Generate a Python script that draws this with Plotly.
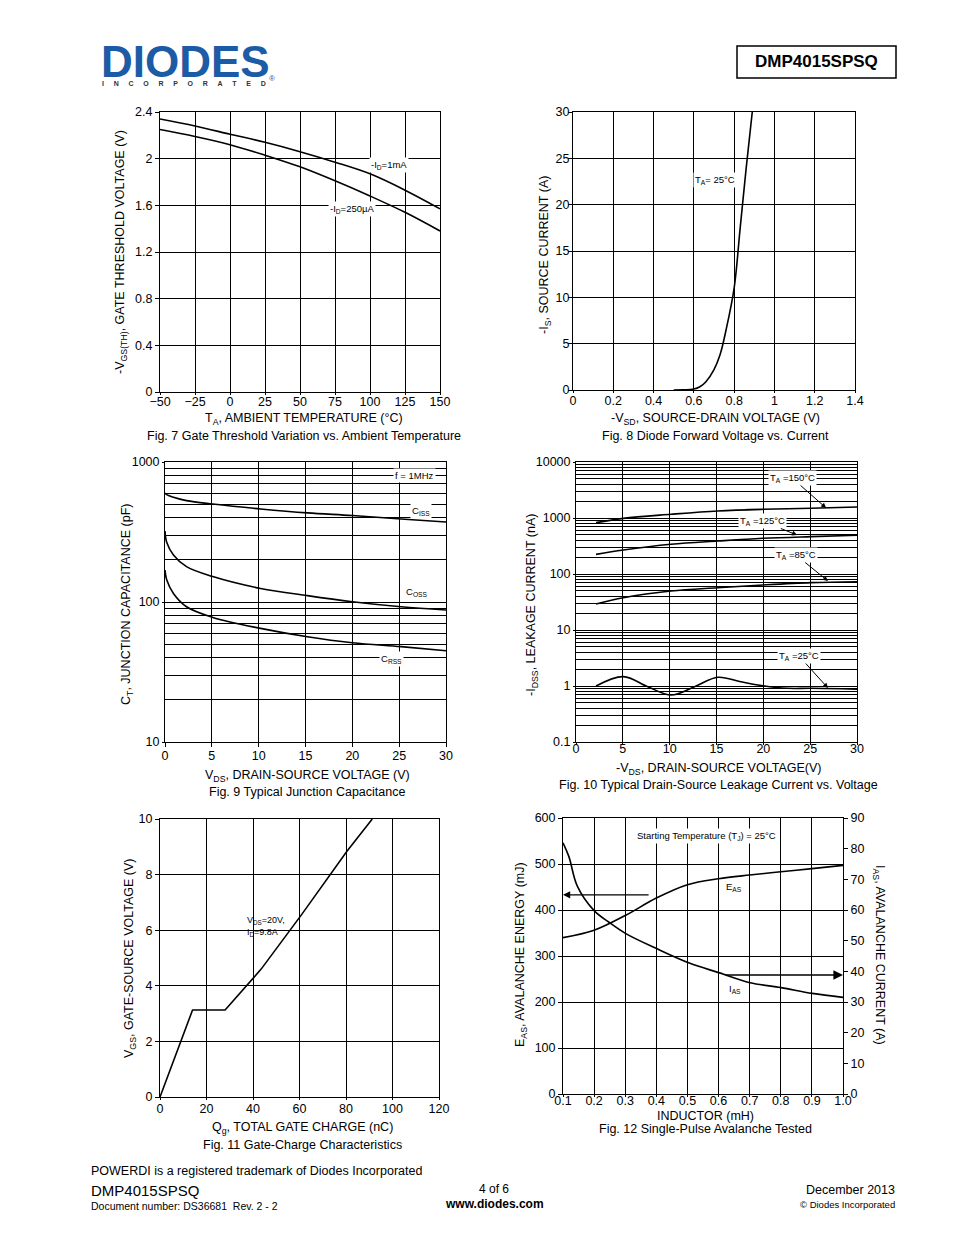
import math
import plotly.graph_objects as go

W, H = 954, 1235
OFF = 8                      # page body margin of the browser
FW, FH = W - OFF, H - OFF    # figure size
FONT = "Liberation Sans, Arial, sans-serif"

# ---------------- data ----------------
# Fig 7: gate threshold vs temperature
f7_temp = [-50, -25, 0, 25, 50, 75, 100, 125, 150]
f7_vth_1mA = [2.34, 2.28, 2.21, 2.14, 2.06, 1.97, 1.87, 1.73, 1.57]
f7_vth_250uA = [2.25, 2.19, 2.12, 2.03, 1.93, 1.81, 1.68, 1.54, 1.38]

# Fig 8: diode forward voltage vs current
f8_vsd = [0.5, 0.55, 0.6, 0.63, 0.66, 0.7, 0.73, 0.76, 0.8, 0.83, 0.86, 0.89]
f8_is = [0.0, 0.02, 0.1, 0.35, 0.9, 2.2, 3.8, 6.5, 11.0, 17.5, 24.0, 30.0]

# Fig 9: junction capacitance
f9_vds = [0, 0.18, 0.9, 2.3, 5.1, 10.2, 15.2, 20, 25.2, 30]
f9_ciss = [600, 585, 560, 530, 501, 462, 433, 415, 392, 373]
f9_coss = [321, 267, 217, 179, 152, 125, 111, 100.5, 92.5, 87.7]
f9_crss = [169, 144, 115, 92.5, 77.6, 64.8, 56.5, 51.2, 48, 44.9]

# Fig 10: leakage current vs voltage
f10_vds = [2.14, 5.06, 10.15, 15.14, 19.95, 25.1, 30]
f10_i150 = [826, 986, 1164, 1334, 1429, 1489, 1571]
f10_i125 = [224, 268, 339, 388, 434, 465, 491]
f10_i85 = [29.1, 37.7, 49.7, 56.9, 63.6, 70.0, 72.9]
f10_vds25 = [2.14, 5.06, 7.66, 10.15, 12.65, 15.14, 17.6, 19.95, 22.6, 25.1, 30]
f10_i25 = [1.0, 1.47, 0.97, 0.69, 0.97, 1.43, 1.19, 1.01, 0.91, 0.91, 0.88]

# Fig 11: gate charge
f11_qg = [0, 14, 28, 43.5, 60.9, 80.4, 91.3]
f11_vgs = [0, 3.13, 3.13, 4.6, 6.56, 8.84, 10.0]

# Fig 12: single-pulse avalanche
f12_l = [0.1, 0.2, 0.3, 0.4, 0.5, 0.6, 0.7, 0.8, 0.9, 1.0]
f12_eas = [340, 356, 388, 426, 455, 468, 476, 483, 490, 497]
f12_l_ias = [0.1, 0.119, 0.146, 0.2, 0.248, 0.302, 0.399, 0.506, 0.603, 0.701, 0.801, 0.901, 1.0]
f12_ias = [81.9, 77.4, 67.8, 59.8, 56.0, 52.3, 47.5, 42.7, 39.5, 36.3, 34.7, 32.8, 31.5]

# tick labels
f7_xt = [-50, -25, 0, 25, 50, 75, 100, 125, 150]
f7_yt = [0, 0.4, 0.8, 1.2, 1.6, 2.0, 2.4]
f7_ytt = ["0", "0.4", "0.8", "1.2", "1.6", "2", "2.4"]
f8_xt = [0, 0.2, 0.4, 0.6, 0.8, 1.0, 1.2, 1.4]
f8_xtt = ["0", "0.2", "0.4", "0.6", "0.8", "1", "1.2", "1.4"]
f8_yt = [0, 5, 10, 15, 20, 25, 30]
f9_yt = [10, 100, 1000]
f10_yt = [0.1, 1, 10, 100, 1000, 10000]
f10_ytt = ["0.1", "1", "10", "100", "1000", "10000"]
vds_xt = [0, 5, 10, 15, 20, 25, 30]
f11_xt = [0, 20, 40, 60, 80, 100, 120]
f11_yt = [0, 2, 4, 6, 8, 10]
f12_xt = [0.1, 0.2, 0.3, 0.4, 0.5, 0.6, 0.7, 0.8, 0.9, 1.0]
f12_xtt = ["0.1", "0.2", "0.3", "0.4", "0.5", "0.6", "0.7", "0.8", "0.9", "1.0"]
f12_ylt = [0, 100, 200, 300, 400, 500, 600]
f12_yrt = [0, 10, 20, 30, 40, 50, 60, 70, 80, 90]


def minor_log(lo, hi):
    vals = []
    for e in range(lo, hi):
        for m in range(2, 10):
            vals.append(m * 10 ** e)
    return vals


# ---------------- helpers (page pixels -> paper) ----------------
def px(x):
    return (x - OFF) / FW


def py(y):
    return 1 - (y - OFF) / FH


def xd(a, b):
    return [px(a), px(b)]


def yd(top, bottom):
    return [py(bottom), py(top)]


def axis(**kw):
    d = dict(showline=True, linecolor="black", linewidth=1, mirror=True,
             showgrid=True, gridcolor="black", gridwidth=1, zeroline=False,
             ticks="outside", ticklen=4, tickcolor="black", tickwidth=1,
             tickfont=dict(family=FONT, size=12.5, color="black"),
             fixedrange=True, automargin=False)
    d.update(kw)
    return d


LINE = dict(color="black", width=1.6)
fig = go.Figure()

fig.add_trace(go.Scatter(x=f7_temp, y=f7_vth_1mA, mode="lines", line=dict(LINE, shape="spline"), xaxis="x", yaxis="y"))
fig.add_trace(go.Scatter(x=f7_temp, y=f7_vth_250uA, mode="lines", line=dict(LINE, shape="spline"), xaxis="x", yaxis="y"))
fig.add_trace(go.Scatter(x=f8_vsd, y=f8_is, mode="lines", line=dict(LINE, shape="spline"), xaxis="x2", yaxis="y2"))
for ys in (f9_ciss, f9_coss, f9_crss):
    fig.add_trace(go.Scatter(x=f9_vds, y=ys, mode="lines", line=dict(LINE, shape="spline"), xaxis="x3", yaxis="y3"))
for ys in (f10_i150, f10_i125, f10_i85):
    fig.add_trace(go.Scatter(x=f10_vds, y=ys, mode="lines", line=dict(LINE, shape="spline"), xaxis="x4", yaxis="y4"))
fig.add_trace(go.Scatter(x=f10_vds25, y=f10_i25, mode="lines", line=dict(LINE, shape="spline", smoothing=1.0), xaxis="x4", yaxis="y4"))
fig.add_trace(go.Scatter(x=f11_qg, y=f11_vgs, mode="lines", line=LINE, xaxis="x5", yaxis="y5"))
fig.add_trace(go.Scatter(x=f12_l, y=f12_eas, mode="lines", line=dict(LINE, shape="spline"), xaxis="x6", yaxis="y6"))
fig.add_trace(go.Scatter(x=f12_l_ias, y=f12_ias, mode="lines", line=dict(LINE, shape="spline"), xaxis="x6", yaxis="y7"))

layout = dict(
    template="none",
    width=FW, height=FH, margin=dict(l=0, r=0, t=0, b=0, pad=0), autosize=False,
    paper_bgcolor="white", plot_bgcolor="white", showlegend=False,
    font=dict(family=FONT, color="black"),
    xaxis=axis(domain=xd(160, 440), range=[-50, 150], tickvals=f7_xt, anchor="y", ticklen=2, ticklabelstandoff=-4),
    yaxis=axis(domain=yd(112, 392), range=[0, 2.4], tickvals=f7_yt, ticktext=f7_ytt, anchor="x"),
    xaxis2=axis(domain=xd(573, 855), range=[0, 1.4], tickvals=f8_xt, ticktext=f8_xtt, anchor="y2", ticklen=2, ticklabelstandoff=-3),
    yaxis2=axis(domain=yd(112, 390), range=[0, 30], tickvals=f8_yt, anchor="x2", ticklabelstandoff=-4),
    xaxis3=axis(domain=xd(165, 446), range=[0, 30], tickvals=vds_xt, anchor="y3", ticklen=4, ticklabelstandoff=-2),
    yaxis3=axis(domain=yd(462, 742), type="log", range=[1, 3], tickvals=f9_yt, anchor="x3",
                ticklen=2,
                minor=dict(tickmode="array", tickvals=minor_log(1, 3), showgrid=True,
                           gridcolor="black", gridwidth=1, ticks="")),
    xaxis4=axis(domain=xd(576, 857), range=[0, 30], tickvals=vds_xt, anchor="y4", ticklen=2, ticklabelstandoff=-7),
    yaxis4=axis(domain=yd(462, 742), type="log", range=[-1, 4], tickvals=f10_yt, ticktext=f10_ytt,
                anchor="x4", ticklen=2,
                minor=dict(tickmode="array", tickvals=minor_log(-1, 4), showgrid=True,
                           gridcolor="black", gridwidth=1, ticks="")),
    xaxis5=axis(domain=xd(160, 439), range=[0, 120], tickvals=f11_xt, anchor="y5", ticklen=2, ticklabelstandoff=-2),
    yaxis5=axis(domain=yd(819, 1097), range=[0, 10], tickvals=f11_yt, anchor="x5"),
    xaxis6=axis(domain=xd(563, 843), range=[0.1, 1.0], tickvals=f12_xt, ticktext=f12_xtt, anchor="y6",
                ticklen=2, ticklabelstandoff=-7),
    yaxis6=axis(domain=yd(818, 1094), range=[0, 600], tickvals=f12_ylt, anchor="x6", mirror=False),
    yaxis7=axis(domain=yd(818, 1094), range=[0, 90], tickvals=f12_yrt, anchor="x6",
                overlaying="y6", side="right", showgrid=False, mirror=False),
)
fig.update_layout(**layout)

ann = []
shapes = []


def txt(x, y, text, size=12.5, xanchor="center", angle=0, bold=False, color="black", bg=None, **kw):
    d = dict(xref="paper", yref="paper", x=px(x), y=py(y), text=("<b>%s</b>" % text) if bold else text,
             showarrow=False, xanchor=xanchor, yanchor="middle", textangle=angle,
             font=dict(family=FONT, size=size, color=color))
    if bg:
        d.update(bgcolor=bg, borderpad=1)
    d.update(kw)
    ann.append(d)


# header
txt(99, 62, "DIODES", size=44, xanchor="left", bold=True, color="#1c5ba6")
NB = "\u00a0" * 5
txt(100, 84, NB.join("INCORPORATED"), size=7, xanchor="left", bold=True, color="#333333")
txt(272, 78, "®", size=8, color="#1c5ba6")
txt(816, 62, "DMP4015SPSQ", size=17, bold=True)
shapes.append(dict(type="rect", xref="paper", yref="paper", x0=px(737), x1=px(896), y0=py(78), y1=py(46),
                   line=dict(color="black", width=1.5)))

# Fig 7
txt(121, 252, "-V<sub>GS(TH)</sub>, GATE THRESHOLD VOLTAGE (V)", size=12.5, angle=-90)
txt(304, 419, "T<sub>A</sub>, AMBIENT TEMPERATURE (°C)", size=12.5)
txt(304, 436, "Fig. 7 Gate Threshold Variation vs. Ambient Temperature", size=12.5)
txt(389, 165, "-I<sub>D</sub>=1mA", size=9.5, bg="white")
txt(352, 209, "-I<sub>D</sub>=250µA", size=9.5, bg="white")

# Fig 8
txt(545, 255, "-I<sub>S</sub>, SOURCE CURRENT (A)", size=12.5, angle=-90)
txt(715, 419, "-V<sub>SD</sub>, SOURCE-DRAIN VOLTAGE (V)", size=12.5)
txt(715, 436, "Fig. 8 Diode Forward Voltage vs. Current", size=12.5)
txt(715, 180, "T<sub>A</sub>= 25°C", size=9.5, bg="white")

# Fig 9
txt(127, 605, "C<sub>T</sub>, JUNCTION CAPACITANCE (pF)", size=12.5, angle=-90)
txt(307, 776, "V<sub>DS</sub>, DRAIN-SOURCE VOLTAGE (V)", size=12.5)
txt(307, 792, "Fig. 9 Typical Junction Capacitance", size=12.5)
txt(414, 475, "f = 1MHz", size=9.5, bg="white")
txt(421, 511, "C<sub>ISS</sub>", size=9.5, bg="white")
txt(416, 592, "C<sub>OSS</sub>", size=9.5, bg="white")
txt(391, 659, "C<sub>RSS</sub>", size=9.5, bg="white")

# Fig 10
txt(532, 605, "-I<sub>DSS</sub>, LEAKAGE CURRENT (nA)", size=12.5, angle=-90)
txt(718, 769, "-V<sub>DS</sub>, DRAIN-SOURCE VOLTAGE(V)", size=12.5)
txt(718, 785, "Fig. 10 Typical Drain-Source Leakage Current vs. Voltage", size=12.5)
f10_labels = [("T<sub>A</sub> =150°C", 26.7, 3.179, -34, -30),
              ("T<sub>A</sub> =125°C", 23.6, 2.696, -35, -14),
              ("T<sub>A</sub> =85°C", 26.9, 1.875, -32, -26),
              ("T<sub>A</sub> =25°C", 26.9, -0.036, -29, -32)]
for t, hx, hy, axp, ayp in f10_labels:
    ann.append(dict(xref="x4", yref="y4", x=hx, y=hy, text=t, showarrow=True, ax=axp, ay=ayp,
                    arrowhead=2, arrowsize=1, arrowwidth=1, arrowcolor="black",
                    bgcolor="white", borderpad=1, font=dict(family=FONT, size=9.5, color="black")))

# Fig 11
txt(130, 958, "V<sub>GS</sub>, GATE-SOURCE VOLTAGE (V)", size=12.5, angle=-90)
txt(302, 1128, "Q<sub>g</sub>, TOTAL GATE CHARGE (nC)", size=12.5)
txt(302, 1145, "Fig. 11 Gate-Charge Characteristics", size=12.5)
shapes.append(dict(type="rect", xref="paper", yref="paper", layer="between", x0=px(243), x1=px(283),
                   y0=py(939), y1=py(913), fillcolor="white", line=dict(width=0)))
txt(245, 926, "V<sub>DS</sub>=20V,<br>I<sub>D</sub>=9.8A", size=9, xanchor="left", align="left")

# Fig 12
txt(521, 955, "E<sub>AS</sub>, AVALANCHE ENERGY (mJ)", size=12.5, angle=-90)
txt(879, 955, "I<sub>AS</sub>, AVALANCHE CURRENT (A)", size=12.5, angle=90)
txt(705, 1116, "INDUCTOR (mH)", size=12.5)
txt(705, 1129, "Fig. 12 Single-Pulse Avalanche Tested", size=12.5)
txt(706, 836, "Starting Temperature (T<sub>J</sub>) = 25°C", size=9.5, bg="white")
txt(734, 887, "E<sub>AS</sub>", size=9.5)
txt(735, 989, "I<sub>AS</sub>", size=9.5)
ann.append(dict(xref="x6", yref="y6", x=0.1, y=433, axref="x6", ayref="y6", ax=0.38, ay=433,
                text="", showarrow=True, arrowhead=2, arrowsize=1.2, arrowwidth=1.2, arrowcolor="black"))
ann.append(dict(xref="x6", yref="y7", x=1.0, y=38.8, axref="x6", ayref="y7", ax=0.62, ay=38.8,
                text="", showarrow=True, arrowhead=2, arrowsize=1.2, arrowwidth=1.6, arrowcolor="black"))

# footer
txt(89, 1171, "POWERDI is a registered trademark of Diodes Incorporated", size=12.5, xanchor="left")
txt(89, 1190, "DMP4015SPSQ", size=15, xanchor="left")
txt(89, 1206, "Document number: DS36681  Rev. 2 - 2", size=10.5, xanchor="left")
txt(494, 1189, "4 of 6", size=12)
txt(494, 1204, "www.diodes.com", size=12, bold=True)
txt(897, 1190, "December 2013", size=12.5, xanchor="right")
txt(897, 1204, "© Diodes Incorporated", size=9.5, xanchor="right")

fig.update_layout(annotations=ann, shapes=shapes)

fig.write_html("out.html", config={"displayModeBar": False})
